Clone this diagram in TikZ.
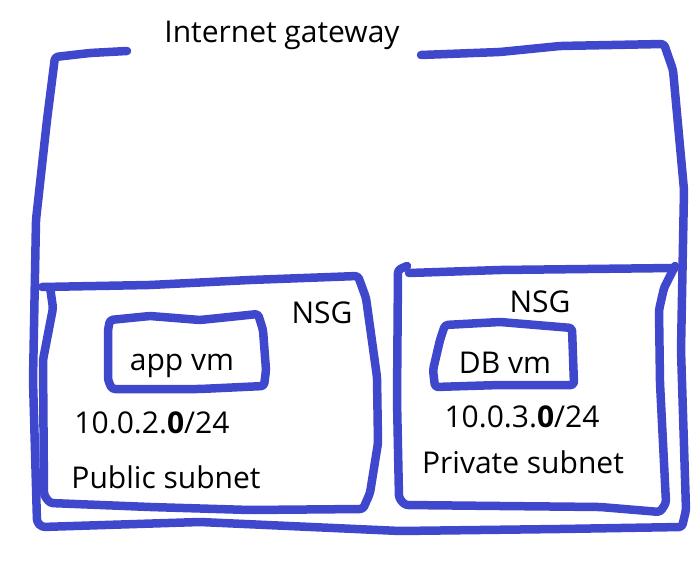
\documentclass[tikz,border=0pt]{standalone}
\usepackage{fontspec}
\setmainfont{Open Sans}
\usepackage{tikz}
\definecolor{penblue}{RGB}{63,72,204}
\tikzset{
  every picture/.style = {
    x = 1pt,
    y = -1pt,
  }
  ,
  pen/.style = {
    draw = penblue,
    line width = 8.5pt,
    line cap = round,
    line join = round,
    rounded corners = 3pt
  }
  , % texts of the sketch
  label-text/.style = {
    font = \fontsize{30}{34}\selectfont,
    anchor = base,
    inner sep = 0pt
  }
}

\begin{document}
\begin{tikzpicture}
\useasboundingbox (0,0) rectangle (696,564);
% vnet
\draw[pen] (127,51) -- (90,53) -- (55,57) -- (47,120) -- (36,220) -- (33,380) -- (37,522) -- (42,527) -- (200,522) -- (400,531) -- (560,529) -- (682,527) -- (686,510) -- (681,350) -- (684,190) -- (673,70) -- (664,44) -- (560,46) -- (500,52) -- (421,55);
% public subnet
\draw[pen] (42,287) -- (150,285) -- (250,280) -- (358,276) -- (366,298) -- (377,377) -- (378,443) -- (370,493) -- (363,509) -- (250,510) -- (150,507) -- (50,503) -- (44,495) -- (43,360) -- (53,308) -- (50,287);
% private subnet
\draw[pen] (407,266) -- (398,270) -- (397,400) -- (399,498) -- (405,505) -- (500,506) -- (600,507) -- (660,512) -- (666,503) -- (665,483) -- (660,383) -- (659,310) -- (664,288) -- (675,266);
\draw[pen] (409,273) -- (500,270) -- (675,268);
% vms
\draw[pen] (110,320) -- (150,316) -- (200,320) -- (258,314) -- (263,330) -- (266,370) -- (264,386) -- (200,389) -- (112,389) -- (108,380) -- (108,330) -- cycle;
\draw[pen] (445,325) -- (500,322) -- (572,328) -- (574,385) -- (500,385) -- (435,387) -- (433,370) -- (440,340) -- cycle;
% texts
\node[label-text] (igw) at (282,43) {Internet gateway};
\node[label-text] (nsgpub) at (322,323) {NSG};
\node[label-text] (appvm) at (182,370) {app vm};
\node[label-text] (cidrpub) at (152,433) {10.0.2.\textbf{0}/24};
\node[label-text] (subpub) at (166,488) {Public subnet};
\node[label-text] (nsgpriv) at (540,312) {NSG};
\node[label-text] (dbvm) at (505,373) {DB vm};
\node[label-text] (cidrpriv) at (522,427) {10.0.3.\textbf{0}/24};
\node[label-text] (subpriv) at (523,473) {Private subnet};
\end{tikzpicture}
\end{document}
